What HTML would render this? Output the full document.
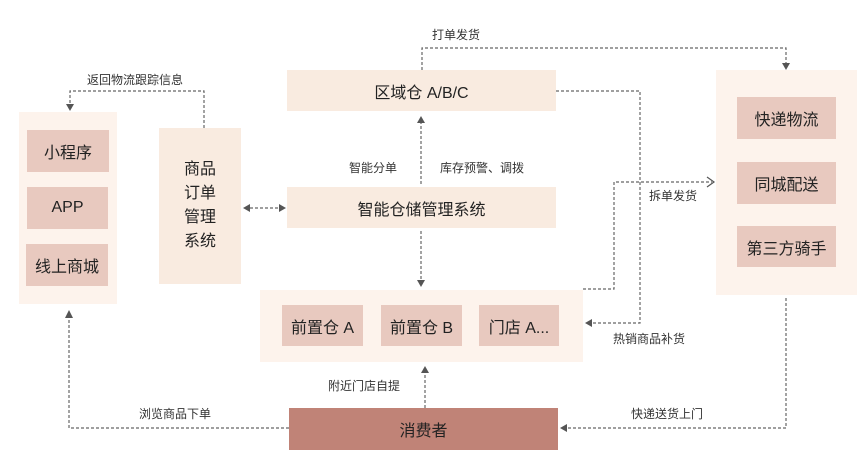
<!DOCTYPE html>
<html><head><meta charset="utf-8"><style>
body{margin:0;background:#fff;}
.wrap{position:relative;width:864px;height:466px;overflow:hidden;font-family:"Liberation Sans","Noto Sans CJK SC",sans-serif;color:#222;}
.b{position:absolute;display:flex;align-items:center;justify-content:center;box-sizing:border-box;}
.o{background:#fdf3ec;}
.m{background:#f9ebe0;font-size:16px;}
.i{background:#e8c9bf;font-size:16px;}
.l{position:absolute;font-size:12px;color:#333;white-space:nowrap;line-height:14px;}
svg{position:absolute;left:0;top:0;}
</style></head><body><div class="wrap">
<div class="b o" style="left:19px;top:112px;width:98px;height:192px"></div>
<div class="b i" style="left:27px;top:130px;width:82px;height:42px">小程序</div>
<div class="b i" style="left:27px;top:187px;width:81px;height:42px">APP</div>
<div class="b i" style="left:26px;top:244px;width:82px;height:42px">线上商城</div>
<div class="b m" style="left:159px;top:128px;width:82px;height:156px;line-height:24px;text-align:center">商品<br>订单<br>管理<br>系统</div>
<div class="b m" style="left:287px;top:70px;width:269px;height:41px">区域仓 A/B/C</div>
<div class="b m" style="left:287px;top:187px;width:269px;height:41px">智能仓储管理系统</div>
<div class="b o" style="left:260px;top:290px;width:323px;height:72px"></div>
<div class="b i" style="left:282px;top:305px;width:81px;height:41px">前置仓 A</div>
<div class="b i" style="left:381px;top:305px;width:81px;height:41px">前置仓 B</div>
<div class="b i" style="left:479px;top:305px;width:80px;height:41px">门店 A...</div>
<div class="b" style="left:289px;top:408px;width:269px;height:42px;background:#c08377;font-size:16px">消费者</div>
<div class="b o" style="left:716px;top:70px;width:141px;height:225px"></div>
<div class="b i" style="left:737px;top:97px;width:99px;height:42px">快递物流</div>
<div class="b i" style="left:737px;top:162px;width:99px;height:42px">同城配送</div>
<div class="b i" style="left:737px;top:226px;width:99px;height:41px">第三方骑手</div>
<svg width="864" height="466" fill="none" stroke="#666" stroke-width="1.2" stroke-dasharray="3,2">
<polyline points="422,70 422,48 786,48 786,64"/>
<polyline points="204,128 204,91 70,91 70,104"/>
<line x1="250" y1="208" x2="279" y2="208"/>
<line x1="421" y1="184" x2="421" y2="122"/>
<line x1="421" y1="231" x2="421" y2="280"/>
<polyline points="556,91 640,91 640,323 592,323"/>
<polyline points="583,289 614,289 614,182 712,182"/>
<line x1="425" y1="408" x2="425" y2="373"/>
<polyline points="289,428 69,428 69,318"/>
<polyline points="786,298 786,428 567,428"/>
</svg>
<svg width="864" height="466" fill="#555" stroke="none">
<polygon points="782,63 790,63 786,70"/>
<polygon points="66,104 74,104 70,111"/>
<polygon points="243,208 250,204 250,212"/>
<polygon points="286,208 279,204 279,212"/>
<polygon points="417,123 425,123 421,116"/>
<polygon points="417,280 425,280 421,287"/>
<polygon points="585,323 592,319 592,327"/>
<polygon points="421,373 429,373 425,366"/>
<polygon points="65,318 73,318 69,310"/>
<polygon points="560,428 567,424 567,432"/>
<polyline points="707,177 714,182 707,187" fill="none" stroke="#555" stroke-width="1.2"/>
</svg>
<div class="l" style="left:432px;top:28px">打单发货</div>
<div class="l" style="left:87px;top:73px">返回物流跟踪信息</div>
<div class="l" style="left:349px;top:161px">智能分单</div>
<div class="l" style="left:440px;top:161px">库存预警、调拨</div>
<div class="l" style="left:649px;top:189px">拆单发货</div>
<div class="l" style="left:613px;top:332px">热销商品补货</div>
<div class="l" style="left:328px;top:379px">附近门店自提</div>
<div class="l" style="left:139px;top:407px">浏览商品下单</div>
<div class="l" style="left:631px;top:407px">快递送货上门</div>
</div></body></html>
